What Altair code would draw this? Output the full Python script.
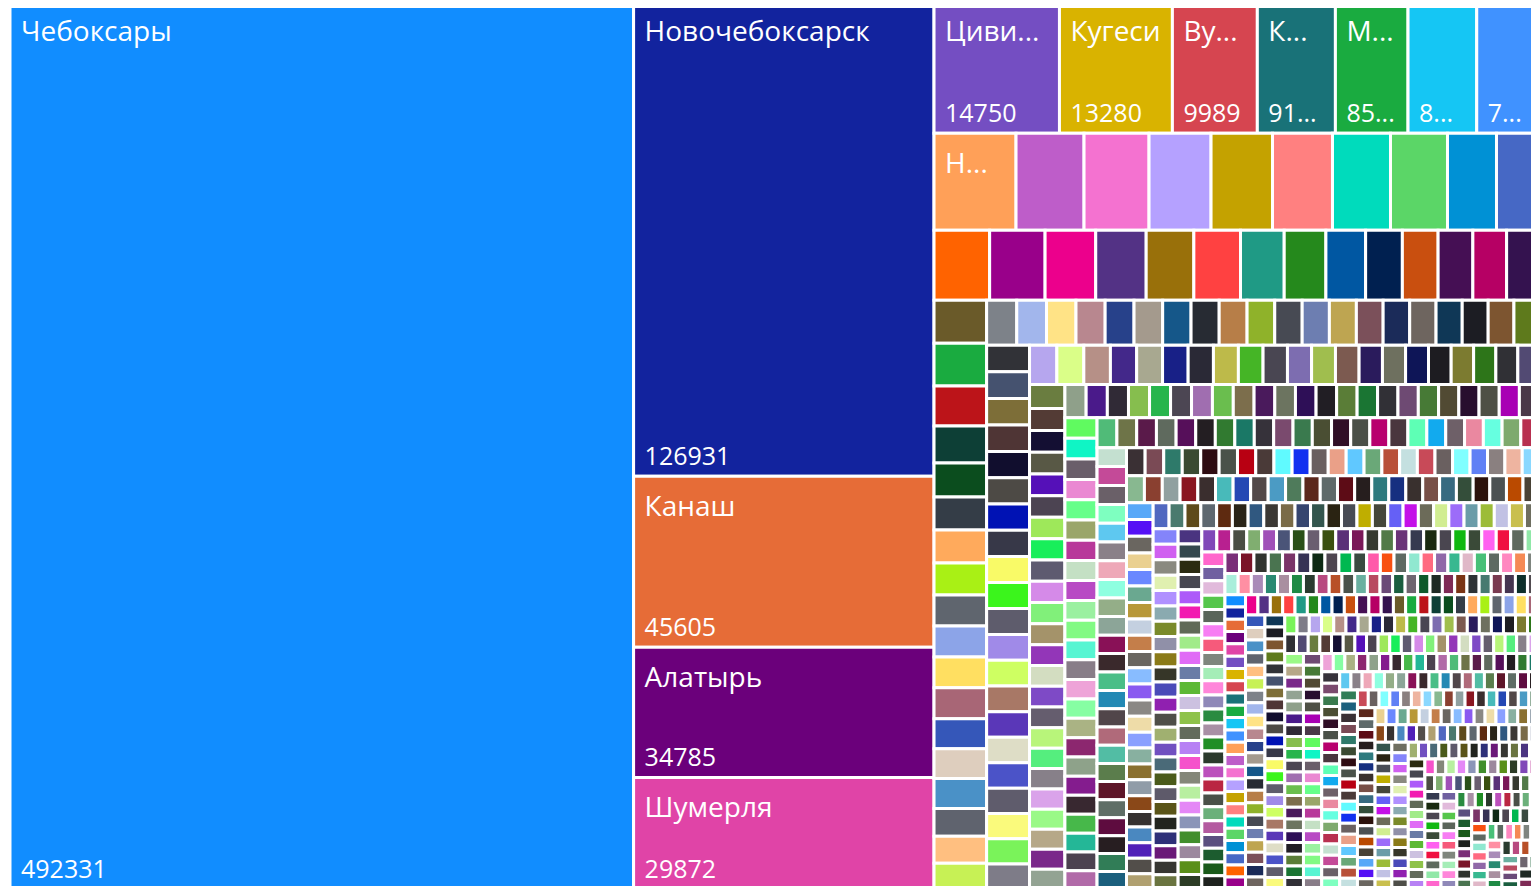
import altair as alt
import pandas as pd

# ---------------- data (values read / estimated from the picture) ----------------
cities = [492331, 126931, 45605, 34785, 29872]
row1 = [14750, 13280, 9989, 9180, 8540, 8080, 7380]
row2 = [7074, 5866, 5608, 5349, 5300, 5176, 5004, 4917, 4227, 3710]
row3 = [3450, 3440, 3142, 3130, 2957, 2895, 2711, 2587, 2464, 2279, 2218, 2156, 2094, 2040]

strip_c1 = [2010, 2000, 1870, 1730, 1590, 1545, 1540, 1495, 1450, 1448, 1446, 1440, 1402, 1400, 1395, 1306, 1260, 1215]
strip_r4 = [1205, 1190, 1178, 1166, 1155, 1145, 1135, 1125, 1115, 1106, 1097, 1088, 1079, 1070, 1062, 1054, 1046, 1038, 1030, 1022]
strip_c2 = [1018, 1015, 1012, 1009, 1006, 1003, 1000, 997, 994, 991, 988, 985, 982, 979, 976, 973, 970, 967, 965, 963, 961]
strip_r5 = [958, 945, 932, 920, 908, 897, 886, 875, 865, 855, 846, 837, 828, 819, 811, 803, 795, 787, 779, 770, 760, 750]
strip_c3 = [690, 687, 684, 681, 678, 675, 672, 669, 666, 663, 660, 657, 654, 651, 648, 645, 642, 639, 636, 633, 631, 629, 627, 625]
strip_r6 = [624, 622, 620, 619, 617, 615, 614, 612, 610, 608, 607, 605, 603, 602, 600, 599, 597, 596, 595, 594, 593, 592, 590]
strip_c4 = [588, 585, 583, 580, 578, 575, 573, 570, 568, 565, 563, 560, 558, 555, 553, 550, 548, 545, 543, 540, 538, 535, 532, 528]
strip_r7 = [527, 525, 524, 522, 521, 519, 518, 516, 515, 513, 512, 510, 509, 507, 506, 504, 503, 501, 500, 499, 498, 497, 496, 495]
strip_c5 = [494, 493, 491, 490, 489, 487, 486, 485, 483, 482, 481, 480, 478, 477, 476, 474, 473, 472, 470, 469, 468, 467, 466]
strip_r8 = [465, 463, 462, 460, 459, 457, 455, 454, 452, 451, 449, 447, 446, 444, 443, 441, 439, 438, 436, 435, 433, 432, 431, 430]
strip_c6 = [428, 427, 425, 424, 422, 421, 419, 418, 416, 415, 413, 412, 410, 409, 407, 406, 404, 403, 401, 400, 398, 397, 396, 395]
strip_r9 = [394, 393, 391, 390, 389, 387, 386, 385, 383, 382, 381, 379, 378, 377, 375, 374, 373, 371, 370, 369, 368, 367, 366, 365]
strip_c7 = [364, 363, 362, 361, 360, 359, 358, 357, 356, 355, 355, 354, 353, 352, 351, 350, 350, 349, 348, 347, 347, 346, 345, 345]
strip_r10 = [344, 343, 342, 341, 340, 339, 338, 337, 336, 335, 334, 333, 332, 331, 330, 329, 328, 327, 326, 325, 324, 323, 322, 322]
strip_c8 = [321, 321, 320, 320, 319, 319, 318, 318, 317, 317, 316, 316, 315, 315, 315, 314, 314, 313, 313, 313, 312, 312, 312]
strip_r11 = [311, 310, 310, 309, 308, 308, 307, 306, 306, 305, 304, 304, 303, 303, 302, 302, 301, 301, 300, 300, 299, 299, 298]
strip_c9 = [297, 296, 296, 295, 294, 294, 293, 292, 291, 291, 290, 289, 289, 288, 287, 287, 286, 285, 285, 284, 283, 283]
strip_r12 = [282, 280, 279, 277, 276, 274, 273, 271, 270, 268, 267, 265, 264, 262, 261, 259, 258, 256, 255, 254, 252, 251, 250]
strip_c10 = [249, 248, 247, 246, 245, 244, 243, 242, 241, 240, 239, 238, 237, 236, 235, 234, 233, 232, 231, 230, 229, 228, 227, 226]

small_cells = [
    225, 225, 225, 225, 225, 225, 225, 225, 225, 225, 225, 225, 225, 225, 225, 225, 225, 225, 225, 225,
    224, 224, 224, 224, 224, 223, 223, 223, 223,
    222, 222, 222, 222, 222, 221, 221, 221, 221,
    220, 220, 220, 220, 220, 219, 219, 219, 219,
    218, 218, 218, 218, 218, 217, 217, 217, 217,
    216, 216, 216, 216, 216, 215, 215, 215, 215,
    214, 214, 214, 214, 214, 213, 213, 213, 213,
    212, 212, 212, 212, 212, 211, 211, 211, 211,
    210, 210, 210, 210, 210, 209, 209, 209, 209,
    208, 208, 208, 208, 208, 207, 207, 207, 207,
    206, 206, 206, 206, 206, 205, 205, 205, 205,
    204, 204, 204, 204, 204, 203, 203, 203, 203,
    202, 202, 202, 202, 202, 201, 201, 201, 201,
    200, 200, 200, 200, 200, 199, 199, 199, 199,
    198, 198, 198, 198, 198, 197, 197, 197, 197,
    196, 196, 196, 196, 196, 195, 195, 195, 195,
    194, 194, 194, 194, 194, 193, 193, 193, 193,
    192, 192, 192, 192, 192, 191, 191, 191, 191,
    190, 190, 190, 190, 190, 189, 189, 189, 189,
    188, 188, 188, 188, 188, 187, 187, 187, 187,
    186, 186, 186, 186, 186, 185, 185, 185, 185,
    184, 184, 184, 184, 184, 183, 183, 183, 183,
    182, 182, 182, 182, 182, 181, 181, 181, 181,
    180, 180, 180, 180, 180, 179, 179, 179, 179,
    178, 178, 178, 178, 178, 177, 177, 177, 177,
    176, 176, 176, 176, 176, 175, 175, 175, 175,
    174, 174, 174, 174, 174, 173, 173, 173, 173,
    172, 172, 172, 172, 172, 171, 171, 171, 171,
    170, 170, 170, 170, 170, 169, 169, 169, 169,
    168, 168, 168, 168, 168, 167, 167, 167, 167,
    166, 166, 166, 166, 166, 165, 165, 165, 165,
    164, 164, 164, 164, 164, 163, 163, 163, 163,
    162, 162, 162, 162, 162, 161, 161, 161, 161,
    160, 160, 160, 160, 160, 159, 159, 159, 159,
    158, 158, 158, 158, 158, 157, 157, 157, 157,
    156, 156, 156, 156, 156, 155, 155, 155, 155,
    154, 154, 154, 154, 154, 153, 153, 153, 153,
    152, 152, 152, 152, 152, 151, 151, 151, 151,
    150, 150, 150, 150, 150, 149, 149, 149, 149,
    148, 148, 148, 148, 148, 147, 147, 147, 147,
    146, 146, 146, 146, 146, 145, 145, 145, 145,
    144, 144, 144, 144, 144, 143, 143, 143, 143,
    142, 142, 142, 142, 142, 141, 141, 141, 141,
    140, 140, 140, 140, 140, 139, 139, 139, 139,
    138, 138, 138, 138, 138, 137, 137, 137, 137,
    136, 136, 136, 136, 136, 135, 135, 135, 135,
    134, 134, 134, 134, 134, 133, 133, 133, 133,
    132, 132, 132, 132, 132, 131, 131, 131, 131,
    130, 130, 130, 130, 130, 129, 129, 129, 129,
    128, 128, 128, 128, 128, 127, 127, 127, 127,
    126, 126, 126, 126, 126, 125, 125, 125, 125,
]

name_labels = ["Чебоксары", "Новочебоксарск", "Канаш", "Алатырь", "Шумерля", "Циви...", "Кугеси",
               "Ву...", "К...", "М...", "", "", "Н..."]
value_labels = ["492331", "126931", "45605", "34785", "29872", "14750", "13280", "9989",
                "91...", "85...", "8...", "7...", ""]

# ---------------- styles: the colour cycle (theme colours, then generated ones) ----------------
theme_colors = ["#118DFF", "#12239E", "#E66C37", "#6B007B", "#E044A7", "#744EC2", "#D9B300", "#D64550",
                "#197278", "#1AAB40", "#15C6F4", "#4092FF", "#FFA058", "#BE5DC9", "#F472D0", "#B5A1FF",
                "#C4A200", "#FF8080", "#00DBBC", "#5BD667", "#0091D5", "#4668C5", "#FF6300", "#99008A",
                "#EC008C", "#533285", "#99700A", "#FF4141", "#1F9A85", "#25891C", "#0057A2", "#002050",
                "#C94F0F", "#450F54", "#B60064", "#34124F"]
extra_colors = [
    "#6A5A29", "#1AAB40", "#BC1419", "#0D3F36", "#0B4D1E", "#343D47", "#FFAA5C", "#A9F015", "#5F656E", "#8CA4E8",
    "#FFDF61", "#A86676", "#3557B9", "#DECEBE", "#4A91C7", "#5F636E", "#FFBF80", "#C7F155",
    "#7D8289", "#A2B6EC", "#FFE386", "#B8878F", "#27418A", "#A49A8D", "#155789", "#272B33", "#B77E48", "#8FB22A",
    "#474A53", "#6D7EB1", "#BEA551", "#7B505A", "#1B2B59", "#6E655F", "#0F3756", "#1C1D23", "#7D5530", "#5E7A1C",
    "#313237", "#45526F", "#7D6E38", "#4F3535", "#110E2E", "#4D4A45", "#0012B4", "#373848", "#F9FA67", "#3BF51C",
    "#5E5C6C", "#A08AE8", "#CEFF62", "#A87866", "#5A37B8", "#DEDDC6", "#4B53C8", "#5F5C6C", "#FAFA7C", "#7AF35A", "#7E7C88",
    "#B6A6EE", "#DAFE88", "#B69087", "#43288A", "#A8A890", "#182087", "#2A2936", "#BDBA4A", "#45B526", "#494652",
    "#7D6DB0", "#A0BE4E", "#7C5A50", "#2A1B5C", "#6E705F", "#0E1557", "#1D1C21", "#7C7B30", "#2D7519", "#303035",
    "#524A73", "#6A7D40",
    "#533B35", "#140F33", "#585845", "#5510B8", "#4C4452", "#9EE85A", "#18EE5A", "#5E5A70", "#D58AE8", "#81F07A",
    "#A4936A", "#9336B8", "#D3DDC1", "#7E4AC6", "#655D6E", "#B8F57A", "#55EE7E", "#878089", "#DAA3EA", "#9AF987",
    "#B6A888", "#7A288A", "#93A393", "#8FA08A",
    "#4A1A8A", "#302A36", "#86BE4E", "#27B54C", "#4C4653", "#A06EB0", "#6ABE4E", "#7C6E4C", "#4A1A5C", "#6C7460",
    "#2E0F57", "#211E24", "#5A7D37", "#1A7533", "#313036", "#6E4A73", "#477A36", "#514A33", "#280E2E", "#4E5045",
    "#A800B4", "#4A3848", "#60FA60",
    "#0FF5C5", "#6A5E6A", "#EA88D2", "#66FF8A", "#9AA66A", "#B8389A", "#C4E0C4", "#B84AC4", "#9AF0A0", "#82FA84",
    "#57F5D2", "#887D88", "#EEA3D8", "#86FEA3", "#AAB384", "#8C276F", "#8EA28A", "#841C8E", "#382830", "#47B84A",
    "#24B797", "#4C4250", "#B16AA8", "#50BB78",
    "#6E7448", "#5A1A4A", "#5F6A5E", "#560F5A", "#231E22", "#317A30", "#1A7866", "#36323A", "#7A4A6E", "#3A7A4E",
    "#4A4E33", "#300E26", "#4A5048", "#B8006E", "#4A363E", "#5EFFB5", "#12AAEE", "#6E6068", "#EA88A0", "#66FFE0",
    "#7EAA6E", "#B83050", "#C4E0D0", "#C44A98",
    "#6A6068", "#7EFFC0", "#5EC8F0", "#8A8088", "#EEA8B8", "#8EFFE0", "#94AE88", "#8CA598", "#891157", "#3A292C",
    "#4ABE87", "#2389B4", "#51464A", "#B06A7A", "#52BDA4", "#5B7D4C", "#5E1629", "#5F6E66", "#5E0C3F", "#271E21",
    "#317D57", "#1B5F7D", "#3A3034",
    "#7A4A55", "#2E7A6A", "#3A4A32", "#2E0C12", "#4A524A", "#B80012", "#4A3A38", "#60FAFF", "#1230F0", "#6A6060",
    "#EAA088", "#60C8FF", "#6AA878", "#B85038", "#C4E0E0", "#C84A58", "#6A6060", "#80FFFF", "#6080F5", "#8A8080",
    "#EEB4A0", "#8AD8FF", "#88B890", "#8A4030",
    "#90A0A0", "#8A1620", "#3A2E2E", "#48BABA", "#2448B4", "#524848", "#4B9BC4", "#4F7B5B", "#5B271C", "#5F6A6A",
    "#5D0C16", "#261E1E", "#2D7A7E", "#162F80", "#39302E", "#784F47", "#376A80", "#344E3A", "#2C120C", "#4B5153",
    "#BA4A00", "#494236", "#58A8F8", "#5510F5",
    "#6A6660", "#EAD090", "#6A88FF", "#6AA890", "#B89838", "#C4D0E0", "#C47E4A", "#6A6660", "#88BCFF", "#8A5AF0",
    "#8A8884", "#EEDCA8", "#8AA0FF", "#88B0A0", "#8A7030", "#909CA8", "#8A4818", "#363230", "#4A88C0", "#5020B8",
    "#524E4A", "#B0A070", "#5068C0", "#4A7A6E",
    "#5E4A1A", "#5E6870", "#5E2A10", "#2A2418", "#305880", "#3B3834", "#7A6B48", "#36456F", "#33554D", "#2A2312",
    "#484C55", "#BFAE00", "#45473A", "#6560F6", "#C410E8", "#6C6B59", "#D1ED91", "#9C6CF9", "#6A9CA8", "#9CBC38",
    "#C1C1E4", "#C9BF4E", "#6E6E60", "#8484FA",
    "#D060F0", "#8A8A80", "#E0F0B0", "#B090FF", "#8AAAB0", "#7A8A2A", "#9090A8", "#8A7A18", "#363628", "#4A4AB8",
    "#9020B0", "#4E4E48", "#A0B070", "#7050C0", "#4A6A78", "#4A5A1A", "#5E5A6A", "#5A5418", "#22241E", "#2E3078",
    "#6A1878", "#363632", "#6A7440", "#4A3480",
    "#34484E", "#2A2A10", "#464650", "#AD5AF9", "#F21BB1", "#606A57", "#A1EB89", "#E06BF6", "#6A7CA6", "#5DB935",
    "#CCC1E0", "#8EC24A", "#636C5C", "#B781F4", "#F552CB", "#848779", "#B8EFA0", "#E487F6", "#8B95B8", "#418E2C",
    "#9C879E", "#5A8F1A", "#2C3C26",
    "#8048B8", "#B82090", "#4A4E44", "#80AE70", "#A050B8", "#4A5478", "#2A5018", "#6A5E70", "#3A5010", "#5A3078",
    "#7A1858", "#363A30", "#527A48", "#6A3478", "#363A50", "#1A2A10", "#4A4650", "#10B810", "#3A4A38", "#FF60F0",
    "#F01040", "#5E6A5E", "#90E8A8",
    "#FF66CC", "#7060A0", "#E1BADB", "#55C64B", "#5A655A", "#F77DF3", "#F65A7B", "#7F867D", "#A5EDB7", "#FF86DA",
    "#8F88B8", "#2A8B40", "#A890A5", "#208E25", "#2B3A2C", "#BC50BC", "#BA2642", "#4A5048", "#6BB07A", "#B45AA0",
    "#5B4F7F", "#1C5C2F",
    "#1A5A1A", "#1E221E", "#7A2E78", "#7A1428", "#30342E", "#4A7450", "#7A3468", "#363254", "#0E2A14", "#4E4650",
    "#00B850", "#3A4A40", "#FF5AAA", "#F85010", "#5E6A62", "#90E8D0", "#FF6A80", "#9068A8", "#38B890", "#E0B8C8",
    "#48C078", "#5E6A62", "#FF88C0",
    "#F58A55", "#7F857F", "#A9EEDB", "#FF8FA3", "#A98BB8", "#2A8A72", "#A98FA0", "#1F8A45", "#2A3B2F", "#B84A80",
    "#B85028", "#4A524A", "#6AB0A0", "#B84A60", "#6A4A78", "#1A5E3F", "#6F6670", "#0E5A2B", "#1E2A24", "#7E2A55",
    "#7A3415", "#2E3235", "#477A70", "#7A3A50",
    "#453550", "#0D2F2A", "#514B50",
]
palette = theme_colors + extra_colors
FONT = "Open Sans"

values = (cities + row1 + row2 + row3 + strip_c1 + strip_r4 + strip_c2 + strip_r5 + strip_c3 + strip_r6
          + strip_c4 + strip_r7 + strip_c5 + strip_r8 + strip_c6 + strip_r9 + strip_c7 + strip_r10
          + strip_c8 + strip_r11 + strip_c9 + strip_r12 + strip_c10 + small_cells)


# ---------------- squarified treemap layout (d3 squarify, golden ratio) ----------------
def squarify(vals, x0, y0, x1, y1, ratio=(1 + 5 ** 0.5) / 2):
    out = []
    n = len(vals)
    i0 = i1 = 0
    value = float(sum(vals))
    while i0 < n:
        dx, dy = x1 - x0, y1 - y0
        s = vals[i1]
        i1 += 1
        mn = mx = s
        alpha = max(dy / dx, dx / dy) / (value * ratio)
        beta = s * s * alpha
        best = max(mx / beta, beta / mn)
        while i1 < n:
            v = vals[i1]
            s2 = s + v
            mn2, mx2 = min(mn, v), max(mx, v)
            beta = s2 * s2 * alpha
            r = max(mx2 / beta, beta / mn2)
            if r > best:
                break
            s, mn, mx, best = s2, mn2, mx2, r
            i1 += 1
        row = vals[i0:i1]
        if dx < dy:
            ny = y0 + dy * s / value if i1 < n else y1
            xx = x0
            for v in row:
                w = dx * v / s
                out.append((xx, y0, xx + w, ny))
                xx += w
            y0 = ny
        else:
            nx = x0 + dx * s / value if i1 < n else x1
            yy = y0
            for v in row:
                h = dy * v / s
                out.append((x0, yy, nx, yy + h))
                yy += h
            x0 = nx
        value -= s
        i0 = i1
    return out


W, H = 1529.5, 888.3          # treemap size in pixels
VIEW_W, VIEW_H = 1523, 881     # svg size (page width minus margins)

cells = squarify(values, 0.0, 0.0, W, H)
df = pd.DataFrame(cells, columns=["x0", "y0", "x1", "y1"])
df["value"] = values
df["color"] = [palette[i % len(palette)] for i in range(len(values))]

lab = df.iloc[:len(name_labels)].copy()
lab["name"] = name_labels
lab["vtext"] = value_labels

# treemap placed at page x=10..1539.5, y=1..889.3 like the reference (edges clipped by the view)
xs = alt.Scale(domain=[0, W], range=[2, 2 + W], nice=False, zero=False)
ys = alt.Scale(domain=[0, H], range=[-7, H - 7], nice=False, zero=False)

rects = alt.Chart(df).mark_rect(stroke="white", strokeWidth=3).encode(
    x=alt.X("x0:Q", scale=xs, axis=None),
    x2="x1:Q",
    y=alt.Y("y0:Q", scale=ys, axis=None),
    y2="y1:Q",
    color=alt.Color("color:N", scale=None),
)

names = alt.Chart(lab).mark_text(
    align="left", baseline="alphabetic", dx=11, dy=39.5,
    font=FONT, fontSize=28, color="white"
).encode(
    x=alt.X("x0:Q", scale=xs, axis=None),
    y=alt.Y("y0:Q", scale=ys, axis=None),
    text="name:N",
)

vals = alt.Chart(lab).mark_text(
    align="left", baseline="alphabetic", dx=11, dy=-11.5,
    font=FONT, fontSize=25, color="white"
).encode(
    x=alt.X("x0:Q", scale=xs, axis=None),
    y=alt.Y("y1:Q", scale=ys, axis=None),
    text="vtext:N",
)

chart = alt.layer(rects, names, vals).properties(
    width=VIEW_W, height=VIEW_H,
    padding=0,
    autosize=alt.AutoSizeParams(type="none"),
).configure_view(strokeWidth=0)

chart.save("out.html", embed_options={"renderer": "svg", "actions": False})
